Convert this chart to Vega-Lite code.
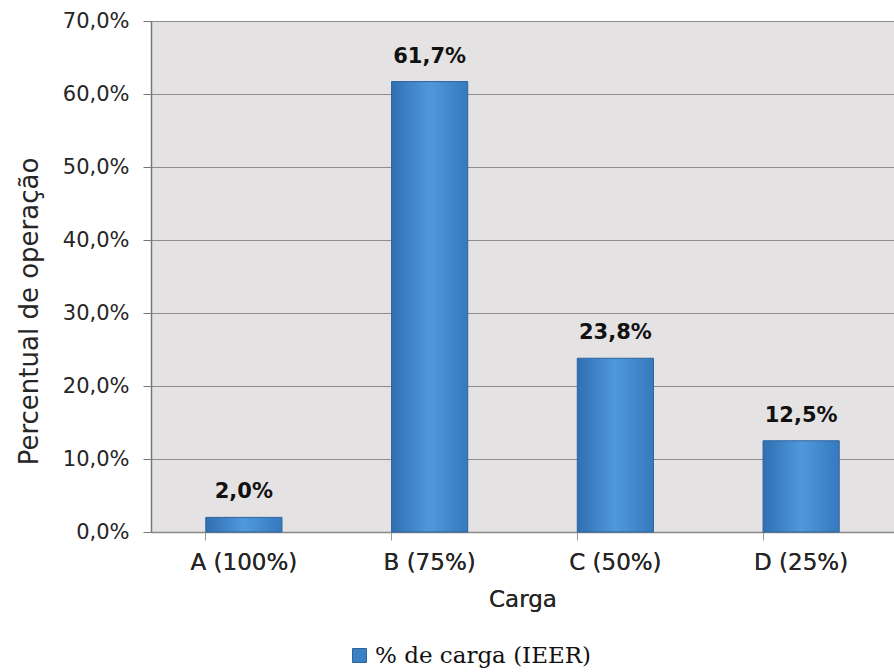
{
  "$schema": "https://vega.github.io/schema/vega-lite/v6.json",
  "autosize": "none",
  "width": 743,
  "height": 511,
  "padding": {"left": 151, "top": 21, "right": 0, "bottom": 140},
  "background": "white",
  "data": {"values": [
    {"carga": "A (100%)", "valor": 0.02, "serie": "% de carga (IEER)"},
    {"carga": "B (75%)", "valor": 0.617, "serie": "% de carga (IEER)"},
    {"carga": "C (50%)", "valor": 0.238, "serie": "% de carga (IEER)"},
    {"carga": "D (25%)", "valor": 0.125, "serie": "% de carga (IEER)"}
  ]},
  "encoding": {
    "x": {"field": "carga", "type": "nominal", "sort": null,
      "scale": {"paddingInner": 0.59, "paddingOuter": 0.295},
      "axis": {"orient": "bottom", "title": "Carga", "labelAngle": 0, "ticks": false, "domain": false,
        "labelFont": "DejaVu Sans", "labelFontSize": 23, "labelColor": "#262626", "labelPadding": 19,
        "titleFont": "DejaVu Sans", "titleFontSize": 23, "titleFontWeight": "normal", "titleColor": "#262626", "titlePadding": 14}},
    "y": {"field": "valor", "type": "quantitative",
      "scale": {"domain": [0, 0.7]},
      "axis": {"title": "Percentual de operação", "format": ".1%", "values": [0, 0.1, 0.2, 0.3, 0.4, 0.5, 0.6, 0.7],
        "labelFont": "DejaVu Sans", "labelFontSize": 21, "labelColor": "#262626", "labelPadding": 14,
        "tickSize": 8, "tickColor": "#777", "domainColor": "#777", "domainWidth": 1.5,
        "gridColor": "#8c8c8c", "gridWidth": 1,
        "titleFont": "DejaVu Sans", "titleFontSize": 26, "titleFontWeight": "normal", "titleColor": "#262626",
        "titlePadding": 20, "titleY": 290}}
  },
  "layer": [
    {
      "mark": {"type": "bar", "stroke": "#2d64a0", "strokeWidth": 1,
        "fill": {"gradient": "linear", "x1": 0, "y1": 0, "x2": 1, "y2": 0,
          "stops": [{"offset": 0, "color": "#306fb2"}, {"offset": 0.5, "color": "#5098dc"}, {"offset": 1, "color": "#3579be"}]}},
      "encoding": {
        "color": {"field": "serie", "type": "nominal", "scale": {"range": ["#3c7fc2"]},
          "legend": {"title": null, "orient": "none", "legendX": 197, "legendY": 623, "symbolType": "square", "symbolSize": 196,
            "labelFont": "DejaVu Serif", "labelFontSize": 23, "labelColor": "#111", "labelLimit": 500, "labelOffset": 4,
            "symbolStrokeColor": "#2d64a0", "symbolStrokeWidth": 1}}
      }
    },
    {
      "mark": {"type": "bar", "opacity": 0},
      "encoding": {
        "x": {"field": "carga", "type": "nominal", "sort": null,
          "axis": {"orient": "bottom", "title": null, "labels": false, "bandPosition": 0, "ticks": true, "tickSize": 8, "tickColor": "#999", "domain": true, "domainColor": "#888", "domainWidth": 1.5, "grid": false}}
      }
    },
    {
      "mark": {"type": "text", "dy": -25, "font": "DejaVu Sans", "fontSize": 21, "fontWeight": "bold", "color": "#111"},
      "encoding": {"text": {"field": "valor", "type": "quantitative", "format": ".1%"}}
    }
  ],
  "resolve": {"axis": {"x": "independent"}},
  "config": {
    "locale": {"number": {"decimal": ",", "thousands": ".", "grouping": [3], "currency": ["R$", ""]}},
    "view": {"fill": "#e4e2e3", "stroke": null}
  }
}
